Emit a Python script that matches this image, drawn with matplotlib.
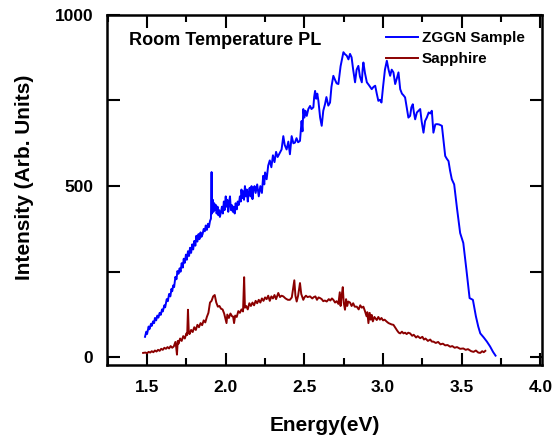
import matplotlib.pyplot as plt
from matplotlib.ticker import MultipleLocator

plt.rcParams['font.family'] = ['Liberation Sans', 'DejaVu Sans']
plt.rcParams['font.weight'] = 'bold'

# ZGGN sample PL (energy in eV, intensity in arb. units)
zggn_e = [1.487, 1.495, 1.50, 1.51, 1.515, 1.525, 1.53, 1.538, 1.545, 1.55, 1.558, 1.565,
          1.572, 1.58, 1.587, 1.595, 1.60, 1.61, 1.615, 1.625, 1.632, 1.64, 1.648, 1.655,
          1.66, 1.666, 1.672, 1.68, 1.687, 1.693, 1.70, 1.707, 1.713, 1.72, 1.727, 1.733,
          1.74, 1.747, 1.753, 1.76, 1.767, 1.773, 1.78, 1.787, 1.793, 1.80, 1.807, 1.813,
          1.82, 1.827, 1.833, 1.84, 1.846, 1.853, 1.86, 1.867, 1.873, 1.88, 1.887, 1.893,
          1.90, 1.906, 1.91, 1.913, 1.918, 1.922, 1.927, 1.932, 1.937, 1.942, 1.948, 1.953,
          1.958, 1.963, 1.97, 1.976, 1.982, 1.988, 1.993, 2.0, 2.005, 2.01, 2.016, 2.022,
          2.027, 2.033, 2.038, 2.045, 2.05, 2.057, 2.063, 2.07, 2.076, 2.083, 2.09, 2.096,
          2.10, 2.105, 2.11, 2.116, 2.122, 2.128, 2.134, 2.14, 2.146, 2.152, 2.158, 2.164,
          2.17, 2.176, 2.183, 2.19, 2.20, 2.21, 2.22, 2.23, 2.238, 2.245, 2.25, 2.26,
          2.27, 2.28, 2.29, 2.30, 2.31, 2.32, 2.33, 2.345, 2.355, 2.366, 2.375, 2.387,
          2.398, 2.408, 2.419, 2.43, 2.44, 2.45, 2.46, 2.472, 2.482, 2.488, 2.493, 2.50,
          2.507, 2.515, 2.525, 2.536, 2.545, 2.557, 2.562, 2.568, 2.575, 2.582, 2.589, 2.60,
          2.61, 2.62, 2.631, 2.64, 2.652, 2.663, 2.672, 2.684, 2.695, 2.705, 2.716, 2.73,
          2.748, 2.758, 2.769, 2.78, 2.79, 2.80, 2.81, 2.822, 2.832, 2.843, 2.853, 2.865,
          2.87, 2.875, 2.885, 2.897, 2.91, 2.928, 2.94, 2.95, 2.96, 2.97, 2.98, 2.99,
          3.0, 3.012, 3.024, 3.035, 3.045, 3.055, 3.066, 3.077, 3.088, 3.098, 3.109, 3.12,
          3.13, 3.14, 3.15, 3.161, 3.172, 3.18, 3.189, 3.196, 3.204, 3.215, 3.226, 3.236,
          3.245, 3.257, 3.267, 3.278, 3.29, 3.30, 3.31, 3.32, 3.332, 3.342, 3.356, 3.374,
          3.385, 3.395, 3.405, 3.416, 3.426, 3.437, 3.452, 3.47, 3.49, 3.51, 3.53, 3.55,
          3.571, 3.59, 3.605, 3.618, 3.64, 3.66, 3.68, 3.699, 3.715]
zggn_i = [60, 75, 68, 90, 82, 98, 92, 105, 100, 115, 108, 122,
          116, 130, 124, 140, 134, 152, 146, 170, 164, 185, 178, 200,
          193, 210, 205, 235, 228, 252, 244, 260, 250, 275, 262, 288,
          276, 300, 285, 310, 296, 320, 305, 330, 315, 340, 326, 355,
          338, 360, 345, 365, 352, 360, 375, 368, 385, 372, 390, 380,
          398, 405, 541, 420, 460, 425, 450, 430, 445, 420, 440, 415,
          430, 410, 425, 440, 420, 455, 430, 470, 440, 460, 425, 455,
          470, 430, 445, 425, 440, 420, 450, 432, 455, 445, 470, 455,
          490, 465, 485, 460, 500, 470, 490, 455, 480, 495, 470, 500,
          462, 490, 500, 480, 505, 470, 500, 480, 530, 505, 540, 520,
          560, 575, 555, 590, 570, 600, 585, 598, 607, 646, 620, 607,
          630, 593, 646, 625, 627, 640, 628, 632, 690, 660, 725, 700,
          720, 705, 725, 734, 725, 730, 760, 778, 755, 770, 749, 700,
          676, 720, 739, 760, 735, 744, 790, 822, 810, 800, 798, 850,
          891, 885, 881, 870, 886, 876, 840, 803, 840, 851, 820, 803,
          840, 861, 830, 803, 795, 783, 790, 793, 770, 749, 752, 744,
          790, 840, 866, 840, 822, 840, 832, 798, 815, 832, 783, 770,
          765, 759, 730, 700, 705, 730, 739, 715, 695, 715, 720, 725,
          690, 656, 690, 700, 715, 712, 720, 656, 680, 681, 680, 676,
          630, 588, 580, 573, 545, 520, 505, 435, 363, 334, 255, 173,
          168, 120, 90, 70, 58, 46, 32, 16, 5]

# Sapphire substrate PL
sap_e = [1.475, 1.49, 1.50, 1.51, 1.52, 1.53, 1.54, 1.55, 1.56, 1.57, 1.58, 1.59,
         1.60, 1.61, 1.62, 1.63, 1.64, 1.65, 1.66, 1.67, 1.68, 1.685, 1.69, 1.695,
         1.70, 1.71, 1.72, 1.73, 1.74, 1.75, 1.755, 1.76, 1.765, 1.77, 1.78, 1.79,
         1.80, 1.81, 1.82, 1.83, 1.84, 1.85, 1.86, 1.87, 1.88, 1.89, 1.90, 1.91,
         1.92, 1.93, 1.94, 1.95, 1.96, 1.97, 1.98, 1.99, 2.0, 2.005, 2.01, 2.02,
         2.03, 2.04, 2.047, 2.053, 2.06, 2.07, 2.08, 2.09, 2.10, 2.11, 2.117, 2.122,
         2.13, 2.14, 2.15, 2.16, 2.17, 2.18, 2.19, 2.20, 2.21, 2.22, 2.23, 2.24,
         2.25, 2.26, 2.27, 2.28, 2.29, 2.30, 2.31, 2.32, 2.334, 2.345, 2.355, 2.366,
         2.38, 2.395, 2.408, 2.42, 2.436, 2.443, 2.451, 2.46, 2.472, 2.48, 2.493, 2.50,
         2.51, 2.52, 2.536, 2.55, 2.56, 2.57, 2.58, 2.59, 2.60, 2.61, 2.62, 2.63,
         2.642, 2.655, 2.665, 2.675, 2.684, 2.695, 2.705, 2.716, 2.725, 2.73, 2.737, 2.744,
         2.75, 2.758, 2.765, 2.772, 2.779, 2.79, 2.80, 2.81, 2.82, 2.833, 2.845, 2.855,
         2.865, 2.875, 2.885, 2.895, 2.90, 2.907, 2.915, 2.922, 2.928, 2.935, 2.945, 2.955,
         2.96, 2.97, 2.98, 2.99, 3.0, 3.01, 3.024, 3.035, 3.045, 3.055, 3.066, 3.08,
         3.09, 3.10, 3.109, 3.12, 3.13, 3.14, 3.15, 3.16, 3.172, 3.185, 3.195, 3.21,
         3.22, 3.236, 3.25, 3.26, 3.27, 3.285, 3.30, 3.31, 3.32, 3.335, 3.35, 3.365,
         3.38, 3.395, 3.41, 3.427, 3.44, 3.455, 3.47, 3.49, 3.51, 3.525, 3.54, 3.56,
         3.575, 3.59, 3.605, 3.618, 3.63, 3.64, 3.65]
sap_i = [13, 14, 12, 16, 14, 18, 15, 20, 17, 22, 19, 25,
         22, 28, 25, 30, 26, 33, 28, 32, 45, 30, 8, 48,
         40, 55, 48, 62, 55, 70, 65, 139, 75, 68, 80, 74,
         88, 80, 95, 88, 100, 94, 108, 102, 118, 130, 160, 165,
         178, 182, 160, 148, 150, 142, 140, 128, 110, 100, 125, 115,
         128, 120, 119, 100, 122, 118, 135, 130, 140, 134, 234, 145,
         150, 140, 158, 150, 160, 152, 165, 158, 168, 160, 172, 165,
         175, 170, 180, 165, 178, 172, 182, 170, 188, 176, 180, 178,
         172, 168, 168, 175, 225, 180, 163, 180, 217, 185, 168, 175,
         180, 176, 178, 172, 176, 178, 168, 175, 173, 170, 164, 166,
         163, 170, 166, 172, 168, 160, 164, 156, 190, 150, 180, 205,
         160, 139, 170, 150, 163, 160, 150, 158, 148, 148, 140, 152,
         145, 148, 135, 120, 132, 100, 130, 110, 124, 105, 118, 112,
         109, 118, 110, 115, 108, 110, 104, 100, 98, 96, 95, 85,
         78, 72, 70, 75, 70, 72, 68, 72, 70, 63, 66, 58,
         62, 56, 60, 52, 55, 48, 52, 46, 46, 42, 45, 38,
         40, 35, 36, 31, 33, 28, 30, 25, 26, 22, 24, 18,
         16, 20, 14, 13, 18, 15, 19]

fig = plt.figure(figsize=(5.57, 4.37), dpi=100)
ax = fig.add_axes([0.192, 0.165, 0.781, 0.801])

ax.plot(zggn_e, zggn_i, color='#0000ff', linewidth=1.4, label='ZGGN Sample')
ax.plot(sap_e, sap_i, color='#8b0000', linewidth=1.4, label='Sapphire')

ax.set_xlim(1.245, 4.01)
ax.set_ylim(-22, 1000)

ax.xaxis.set_major_locator(MultipleLocator(0.5))
ax.xaxis.set_minor_locator(MultipleLocator(0.25))
ax.set_yticks([0, 250, 500, 750, 1000])
ax.set_yticklabels(['0', '', '500', '', '1000'])

ax.tick_params(axis='both', which='both', direction='in', top=True, right=True, width=1.5)
ax.tick_params(axis='x', which='major', length=9, pad=11, labelsize=12.5)
ax.tick_params(axis='x', which='minor', length=5)
ax.tick_params(axis='y', which='major', length=9, pad=10, labelsize=12.5)
for lab in ax.get_xticklabels() + ax.get_yticklabels():
    lab.set_fontweight('bold')

for sp in ax.spines.values():
    sp.set_linewidth(1.8)

ax.set_xlabel('Energy(eV)', fontsize=15, fontweight='bold', labelpad=15)
ax.set_ylabel('Intensity (Arb. Units)', fontsize=15, fontweight='bold')
ax.yaxis.set_label_coords(-0.167, 0.537)

ax.text(0.05, 0.927, 'Room Temperature PL', transform=ax.transAxes,
        fontsize=13, fontweight='bold', va='center', ha='left')

ax.legend(loc='upper left', bbox_to_anchor=(0.624, 0.975), frameon=False,
          prop={'weight': 'bold', 'size': 11}, handlelength=2.1,
          handletextpad=0.25, labelspacing=0.45, borderpad=0)

fig.savefig('out.png', dpi=100)
